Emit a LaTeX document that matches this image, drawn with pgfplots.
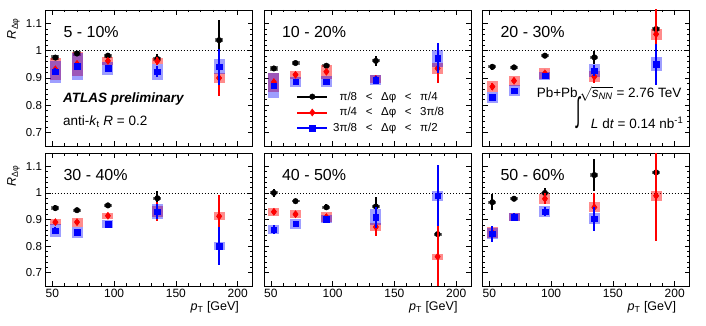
\documentclass[border=0pt]{standalone}
\usepackage{fontspec}
\setmainfont{Liberation Sans}
\usepackage{graphicx}
\usepackage{pgfplots}
\usepackage{pgfplotstable}
\pgfplotsset{compat=1.18}

% columns: pT, R, stat. error, syst. error
% 5-10%
\pgfplotstableread{
x y stat sys
52.5 0.975 0.008 0.008
70 0.990 0.008 0.008
95 0.982 0.007 0.007
135 0.970 0.018 0.008
185 1.039 0.075 0.008
}\tAk
\pgfplotstableread{
x y stat sys
52.5 0.932 0.010 0.040
70 0.952 0.012 0.045
95 0.963 0.010 0.016
135 0.962 0.015 0.012
185 0.900 0.068 0.017
}\tAr
\pgfplotstableread{
x y stat sys
52.5 0.923 0.012 0.040
70 0.943 0.012 0.050
95 0.935 0.010 0.023
135 0.923 0.020 0.030
185 0.941 0.065 0.028
}\tAb
% 10-20%
\pgfplotstableread{
x y stat sys
52.5 0.935 0.006 0.008
70 0.955 0.006 0.006
95 0.945 0.005 0.006
135 0.963 0.018 0.006
}\tBk
\pgfplotstableread{
x y stat sys
52.5 0.885 0.010 0.035
70 0.912 0.008 0.015
95 0.923 0.008 0.025
135 0.897 0.012 0.015
185 0.935 0.055 0.020
}\tBr
\pgfplotstableread{
x y stat sys
52.5 0.872 0.010 0.045
70 0.886 0.008 0.018
95 0.886 0.008 0.020
135 0.893 0.015 0.018
185 0.972 0.055 0.030
}\tBb
% 20-30%
\pgfplotstableread{
x y stat sys
52.5 0.941 0.010 0.006
70 0.939 0.006 0.006
95 0.982 0.006 0.006
135 0.976 0.024 0.006
185 1.080 0.060 0.006
}\tCk
\pgfplotstableread{
x y stat sys
52.5 0.868 0.012 0.020
70 0.890 0.010 0.018
95 0.917 0.008 0.020
135 0.905 0.022 0.020
185 1.061 0.100 0.020
}\tCr
\pgfplotstableread{
x y stat sys
52.5 0.829 0.010 0.020
70 0.853 0.010 0.020
95 0.908 0.008 0.015
135 0.927 0.020 0.025
185 0.951 0.075 0.025
}\tCb
% 30-40%
\pgfplotstableread{
x y stat sys
52.5 0.943 0.010 0.007
70 0.935 0.006 0.006
95 0.953 0.010 0.006
135 0.980 0.028 0.006
}\tDk
\pgfplotstableread{
x y stat sys
52.5 0.890 0.008 0.012
70 0.890 0.008 0.017
95 0.914 0.010 0.012
135 0.930 0.035 0.020
185 0.912 0.080 0.015
}\tDr
\pgfplotstableread{
x y stat sys
52.5 0.858 0.012 0.025
70 0.852 0.010 0.020
95 0.883 0.010 0.015
135 0.930 0.030 0.027
185 0.800 0.070 0.015
}\tDb
% 40-50%
\pgfplotstableread{
x y stat sys
52.5 1.000 0.015 0.006
70 0.969 0.006 0.005
95 0.946 0.012 0.005
135 0.949 0.035 0.005
185 0.845 0.050 0.006
}\tEk
\pgfplotstableread{
x y stat sys
52.5 0.929 0.012 0.015
70 0.920 0.010 0.016
95 0.909 0.010 0.018
135 0.872 0.035 0.015
185 0.760 0.120 0.012
}\tEr
\pgfplotstableread{
x y stat sys
52.5 0.862 0.018 0.018
70 0.884 0.012 0.018
95 0.902 0.012 0.015
135 0.908 0.040 0.030
185 0.989 0.115 0.020
}\tEb
% 50-60%
\pgfplotstableread{
x y stat sys
52.5 0.965 0.030 0.006
70 0.978 0.010 0.005
95 1.000 0.020 0.005
135 1.067 0.060 0.006
185 1.077 0.070 0.006
}\tFk
\pgfplotstableread{
x y stat sys
52.5 0.850 0.020 0.020
70 0.910 0.012 0.015
95 0.978 0.020 0.018
135 0.946 0.055 0.018
185 0.989 0.170 0.020
}\tFr
\pgfplotstableread{
x y stat sys
52.5 0.847 0.030 0.020
70 0.908 0.015 0.015
95 0.930 0.018 0.020
135 0.903 0.045 0.020
}\tFb

\pgfplotsset{
  panel/.style={width=207pt, scale only axis, xmin=44.5, xmax=212, ymin=0.65, ymax=1.15,
    xtick={50,100,150,200}, ytick={0.7,0.8,0.9,1,1.1}, minor x tick num=4, minor y tick num=4,
    tick align=inside, major tick length=5pt, minor tick length=2.5pt,
    axis line style={line width=0.9pt}, every tick/.style={black, line width=0.6pt},
    xticklabel style={font=\fontsize{12}{14}\selectfont},
    yticklabel style={font=\fontsize{11.5}{14}\selectfont},
    /pgf/number format/assume math mode=true, clip mode=individual, anchor=north west},
  errs/.style={forget plot, only marks, error bars/y dir=both, error bars/y explicit,
    error bars/error mark=none}}

\newcommand{\panel}[3]{%
  \addplot[forget plot, black, line width=0.8pt, dash pattern=on 1pt off 2pt] coordinates {(44.5,1) (212,1)};
  \addplot[errs, mark=none, error bars/error bar style={line width=8pt, draw=black!75, opacity=0.75}] table[x=x, y=y, y error=sys] {#1};
  \addplot[errs, mark=none, error bars/error bar style={line width=11pt, draw=red, opacity=0.45}] table[x=x, y=y, y error=sys] {#2};
  \addplot[errs, mark=none, error bars/error bar style={line width=11pt, draw=blue, opacity=0.38}] table[x=x, y=y, y error=sys] {#3};
  \addplot[errs, black, mark=*, mark size=2.8pt, error bars/error bar style={line width=2pt}] table[x=x, y=y, y error=stat] {#1};
  \addplot[errs, red, mark=diamond*, mark size=3.6pt, error bars/error bar style={line width=2pt}] table[x=x, y=y, y error=stat] {#2};
  \addplot[errs, blue, mark=square*, mark size=2.8pt, error bars/error bar style={line width=2pt}] table[x=x, y=y, y error=stat] {#3};}
\newcommand{\cent}[1]{\node[anchor=west, xshift=14.5pt, yshift=-22pt, font=\fontsize{16}{18}\selectfont] at (rel axis cs:0,1) {#1};}
\newcommand{\rlabel}[1]{\node[rotate=90, font=\fontsize{12.5}{14}\selectfont] at ([xshift=-32pt]rel axis cs:0,#1) {\textit{R}\textsubscript{Δφ}};}
\newcommand{\ptlabel}{\node[anchor=east, font=\fontsize{12.5}{14}\selectfont] at ([xshift=-10pt, yshift=-21pt]rel axis cs:1,0) {\textit{p}\textsubscript{T} [GeV]};}
\newcommand{\dphi}[2]{\hspace{5pt}\makebox[1.9em][r]{#1}\hspace{0.75em}<\hspace{0.75em}Δφ\hspace{0.75em}<\hspace{0.75em}#2}

\begin{document}
\begin{tikzpicture}
\useasboundingbox (0,0) rectangle (706pt,-326pt);

\begin{axis}[panel, at={(45.5pt,-10pt)}, height=136pt, xticklabels={}]
\panel{\tAk}{\tAr}{\tAb}
\cent{5 - 10\%}
\rlabel{0.864}
\node[anchor=west, xshift=14pt, font=\fontsize{13.5}{16}\selectfont\bfseries\itshape] at (rel axis cs:0,0.343) {ATLAS preliminary};
\node[anchor=west, xshift=14pt, font=\fontsize{13.5}{16}\selectfont] at (rel axis cs:0,0.179) {anti-\textit{k}\textsubscript{t} \textit{R} = 0.2};
\end{axis}

\begin{axis}[panel, at={(264pt,-10pt)}, height=136pt, xticklabels={}, yticklabels={},
  legend style={at={(0.155,0.415)}, anchor=north west, draw=none, fill=none, inner sep=0pt,
    font=\fontsize{11.5}{13}\selectfont, row sep=2pt},
  legend cell align=left,
  legend image code/.code={\draw[mark repeat=2, mark phase=2, #1] plot coordinates {(0pt,0pt) (15pt,0pt) (30pt,0pt)};}]
\panel{\tBk}{\tBr}{\tBb}
\cent{10 - 20\%}
\addlegendimage{black, line width=2pt, mark=*, mark size=2.8pt, mark options={line width=0.4pt}}
\addlegendentry{\dphi{π/8}{π/4}}
\addlegendimage{red, line width=2pt, mark=diamond*, mark size=3.6pt, mark options={line width=0.4pt}}
\addlegendentry{\dphi{π/4}{3π/8}}
\addlegendimage{blue, line width=2pt, mark=square*, mark size=2.8pt, mark options={line width=0.4pt}}
\addlegendentry{\dphi{3π/8}{π/2}}
\end{axis}

\begin{axis}[panel, at={(482.5pt,-10pt)}, height=136pt, xticklabels={}, yticklabels={}]
\panel{\tCk}{\tCr}{\tCb}
\cent{20 - 30\%}
\node[anchor=west, font=\fontsize{13.5}{16}\selectfont] at (rel axis cs:0.245,0.382) {Pb+Pb\,$\sqrt{\mbox{\textit{s}\textsubscript{\textit{NN}}}}$ = 2.76 TeV};
\node[inner sep=0pt, font=\fontsize{13}{15}\selectfont] at (rel axis cs:0.462,0.245) {\scalebox{1.2}[2.6]{∫}};
\node[anchor=west, font=\fontsize{13.5}{16}\selectfont] at (rel axis cs:0.507,0.169) {\textit{L} d\textit{t} = 0.14 nb\textsuperscript{-1}};
\end{axis}

\begin{axis}[panel, at={(45.5pt,-153pt)}, height=133pt]
\panel{\tDk}{\tDr}{\tDb}
\cent{30 - 40\%}
\rlabel{0.827}
\ptlabel
\end{axis}

\begin{axis}[panel, at={(264pt,-153pt)}, height=133pt, yticklabels={}]
\panel{\tEk}{\tEr}{\tEb}
\cent{40 - 50\%}
\ptlabel
\end{axis}

\begin{axis}[panel, at={(482.5pt,-153pt)}, height=133pt, yticklabels={}]
\panel{\tFk}{\tFr}{\tFb}
\cent{50 - 60\%}
\ptlabel
\end{axis}
\end{tikzpicture}
\end{document}
